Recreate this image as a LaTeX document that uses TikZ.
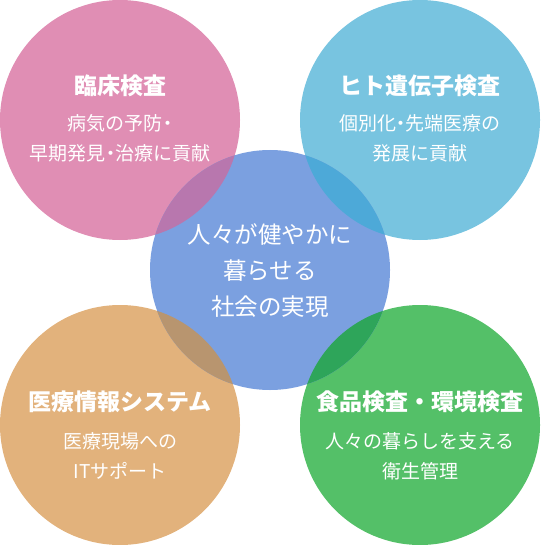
\documentclass[tikz,border=0pt]{standalone}
\usepackage{fontspec}
\setmainfont{Noto Sans CJK JP}
\usepackage{tikz}
\usetikzlibrary{positioning}

\definecolor{pinkc}{HTML}{E08EB4}
\definecolor{skyc}{HTML}{78C4E0}
\definecolor{bluec}{HTML}{7BA0E0}
\definecolor{orangec}{HTML}{E2B27C}
\definecolor{greenc}{HTML}{54C068}
\definecolor{pinkblue}{HTML}{B877AE}
\definecolor{skyblue}{HTML}{4DA9D8}
\definecolor{orangeblue}{HTML}{B8956F}
\definecolor{greenblue}{HTML}{2EA55A}
\newcommand{\ndot}{\kern-.25em・\kern-.25em}

\begin{document}
\begin{tikzpicture}[x=1pt, y=-1pt,
    ttl/.style={text=white, font=\fontsize{23}{26}\selectfont\bfseries},
    txt/.style={text=white, align=center, font=\fontsize{19}{30}\selectfont},
    mid/.style={text=white, align=center, font=\fontsize{23.5}{36}\selectfont}]
      \useasboundingbox (0,0) rectangle (540,545);
      % five circles
      \fill[pinkc] (120,120) circle (120);
      \fill[skyc] (420,120) circle (120);
      \fill[orangec] (120,425) circle (120);
      \fill[greenc] (420,425) circle (120);
      \fill[bluec] (270,270) circle (120);
      % overlaps with the centre
      \begin{scope}
        \clip (270,270) circle (120);
        \fill[pinkblue] (120,120) circle (120);
        \fill[skyblue] (420,120) circle (120);
        \fill[orangeblue] (120,425) circle (120);
        \fill[greenblue] (420,425) circle (120);
      \end{scope}
      % texts
      \node[ttl] (rinsho) at (120,86) {臨床検査};
      \node[txt] (rinshotxt) at (120,138) {病気の予防\ndot\\早期発見\ndot 治療に貢献};
      \node[ttl] (idenshi) at (420,86) {ヒト遺伝子検査};
      \node[txt] (idenshitxt) at (420,138) {個別化\ndot 先端医療の\\発展に貢献};
      \node[mid] (goal) at (270,271) {人々が健やかに\\暮らせる\\社会の実現};
      \node[ttl] (joho) at (120,402) {医療情報システム};
      \node[txt] (johotxt) at (120,456) {医療現場への\\ITサポート};
      \node[ttl] (shokuhin) at (420,402) {食品検査・環境検査};
      \node[txt] (shokuhintxt) at (420,456) {人々の暮らしを支える\\衛生管理};
    \end{tikzpicture}
\end{document}
